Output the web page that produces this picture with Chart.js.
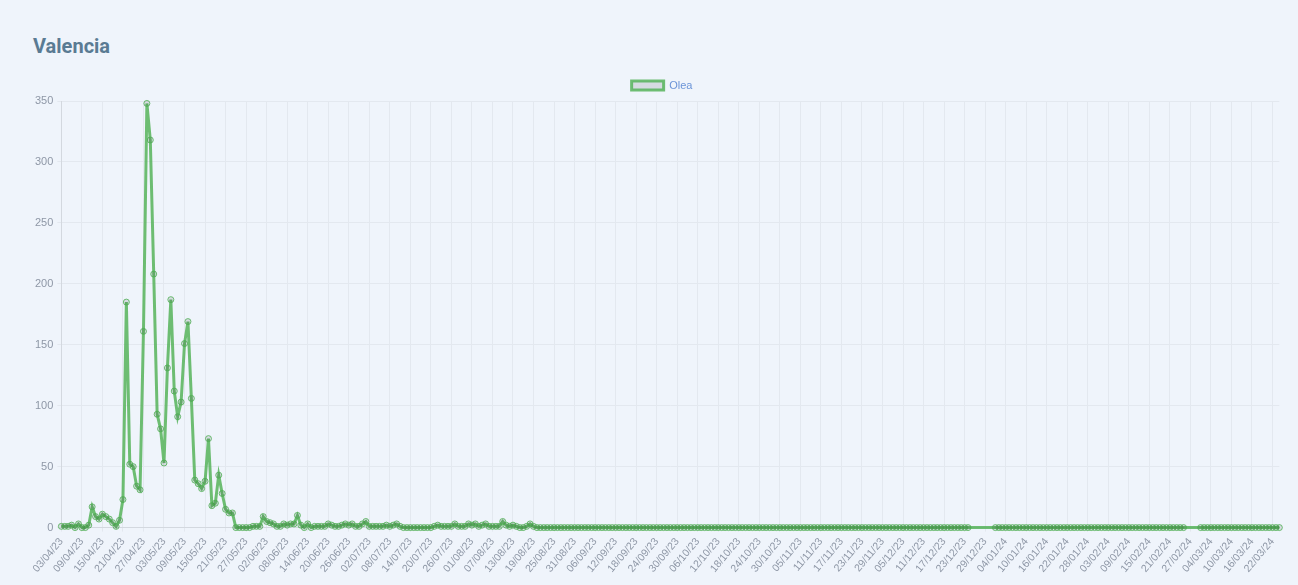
<!DOCTYPE html>
<html>
<head>
<meta charset="utf-8">
<title>Valencia</title>
<script src="https://cdn.jsdelivr.net/npm/chart.js@4.4.0/dist/chart.umd.min.js"></script>
<style>
  html, body { margin: 0; padding: 0; background: #eff4fb; }
  h2 { position: absolute; left: 33px; top: 34px; margin: 0; font: 700 20px Roboto, sans-serif; color: #5a7b93; }
  #wrap { position: absolute; left: 31px; top: 70px; width: 1262px; height: 509px; }
</style>
</head>
<body>
<h2>Valencia</h2>
<div id="wrap"><canvas id="chart"></canvas></div>
<script>
// First day of the series and how many daily labels there are
const startDate = new Date(2023, 3, 3);
const dayCount = 357;

// Daily Olea counts, one array per month (03/04/23 .. 24/03/24)
const apr23 = [1, 1, 1, 2, 0, 3, 0, 0, 2, 17, 9, 7, 11, 9, 7, 4, 1, 6, 23, 185, 52, 50, 34, 31, 161, 348, 318, 208];
const may23 = [93, 81, 53, 131, 187, 112, 91, 103, 151, 169, 106, 39, 36, 32, 38, 73, 18, 20, 43, 28, 15, 12, 12, 0, 0, 0, 0, 0, 1, 1, 1];
const jun23 = [9, 5, 4, 3, 1, 1, 3, 2, 3, 3, 10, 2, 0, 3, 0, 1, 1, 1, 1, 3, 2, 1, 1, 2, 3, 2, 3, 1, 1, 3];
const jul23 = [5, 1, 1, 1, 1, 1, 2, 1, 2, 3, 1, 0, 0, 0, 0, 0, 0, 0, 0, 0, 1, 2, 1, 1, 1, 1, 3, 1, 1, 1, 3];
const aug23 = [2, 3, 1, 2, 3, 1, 1, 1, 1, 5, 2, 1, 2, 1, 0, 0, 1, 3, 1, 0, 0, 0, 0, 0, 0, 0, 0, 0, 0, 0, 0];
const sep23 = [0, 0, 0, 0, 0, 0, 0, 0, 0, 0, 0, 0, 0, 0, 0, 0, 0, 0, 0, 0, 0, 0, 0, 0, 0, 0, 0, 0, 0, 0];
const oct23 = [0, 0, 0, 0, 0, 0, 0, 0, 0, 0, 0, 0, 0, 0, 0, 0, 0, 0, 0, 0, 0, 0, 0, 0, 0, 0, 0, 0, 0, 0, 0];
const nov23 = [0, 0, 0, 0, 0, 0, 0, 0, 0, 0, 0, 0, 0, 0, 0, 0, 0, 0, 0, 0, 0, 0, 0, 0, 0, 0, 0, 0, 0, 0];
const dec23 = [0, 0, 0, 0, 0, 0, 0, 0, 0, 0, 0, 0, 0, 0, 0, 0, 0, 0, 0, 0, 0, 0, 0, 0, null, null, null, null, null, null, null];
const jan24 = [0, 0, 0, 0, 0, 0, 0, 0, 0, 0, 0, 0, 0, 0, 0, 0, 0, 0, 0, 0, 0, 0, 0, 0, 0, 0, 0, 0, 0, 0, 0];
const feb24 = [0, 0, 0, 0, 0, 0, 0, 0, 0, 0, 0, 0, 0, 0, 0, 0, 0, 0, 0, 0, 0, 0, 0, 0, 0, null, null, null, null];
const mar24 = [0, 0, 0, 0, 0, 0, 0, 0, 0, 0, 0, 0, 0, 0, 0, 0, 0, 0, 0, 0, 0, 0, 0, 0];

const olea = [].concat(apr23, may23, jun23, jul23, aug23, sep23, oct23, nov23, dec23, jan24, feb24, mar24);

// dd/mm/yy labels, one per day
function pad(n) {
    return String(n).padStart(2, '0');
}
const labels = [];
for (let i = 0; i < dayCount; i++) {
    const d = new Date(startDate.getFullYear(), startDate.getMonth(), startDate.getDate() + i);
    labels.push(pad(d.getDate()) + '/' + pad(d.getMonth() + 1) + '/' + pad(d.getFullYear() % 100));
}

const tickFont = { family: 'Liberation Sans, Arial, sans-serif', size: 11 };
const xTickFont = { family: 'Liberation Sans, Arial, sans-serif', size: 10.5 };
const gridColor = '#e3e8ef';

const ctx = document.getElementById('chart').getContext('2d');
const chart = new Chart(ctx, {
    type: 'line',
    data: {
        labels: labels,
        datasets: [{
            label: 'Olea',
            data: olea,
            borderColor: 'rgba(76,175,80,0.8)',
            backgroundColor: 'rgba(0,0,0,0.1)',
            borderWidth: 3,
            pointRadius: 3,
            pointBorderWidth: 1,
            tension: 0,
            spanGaps: true
        }]
    },
    options: {
        responsive: true,
        maintainAspectRatio: false,
        animation: false,
        plugins: {
            legend: {
                display: true,
                position: 'top',
                labels: {
                    color: '#6b94d8',
                    boxWidth: 32,
                    boxHeight: 9,
                    font: tickFont
                }
            },
            tooltip: { enabled: false }
        },
        scales: {
            x: {
                ticks: {
                    autoSkip: false,
                    minRotation: 50,
                    maxRotation: 50,
                    color: '#8e97a6',
                    font: xTickFont,
                    padding: 4,
                    callback: function(value, index) {
                        return index % 6 === 0 ? this.getLabelForValue(value) : '';
                    }
                },
                grid: {
                    color: c => (c.index % 6 === 0 ? gridColor : 'rgba(0,0,0,0)'),
                    tickLength: 4
                },
                border: { color: '#d3d8df' }
            },
            y: {
                beginAtZero: true,
                ticks: {
                    stepSize: 50,
                    color: '#8e97a6',
                    font: tickFont,
                    padding: 4
                },
                grid: {
                    color: gridColor,
                    tickLength: 4
                },
                border: { color: '#d3d8df' }
            }
        }
    }
});
</script>
</body>
</html>
